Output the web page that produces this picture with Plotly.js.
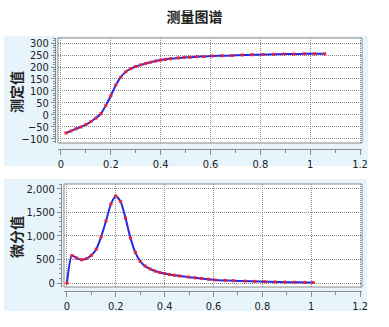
<!DOCTYPE html>
<html>
<head>
<meta charset="utf-8">
<script src="https://cdn.plot.ly/plotly-3.0.1.min.js"></script>
<style>html,body{margin:0;padding:0;background:#fff;}#chart{width:389px;height:327px;}</style>
</head>
<body>
<div id="chart"></div>
<script>
// Top panel: measured value (测定值)
const xMeasured = [0.02,0.04,0.06,0.08,0.10,0.12,0.14,0.16,0.18,0.20,0.22,0.24,0.26,0.28,0.30,0.32,0.34,0.36,0.38,0.40,0.42,0.44,0.47,0.495,0.518,0.546,0.573,0.607,0.645,0.686,0.727,0.767,0.811,0.854,0.895,0.936,0.977,1.018,1.058];
const yMeasured = [-75,-67,-58,-50,-40,-28,-13,5,40,80,125,158,180,193,202,209,215,220,225,229,232,235,238,240,241,243,244,246,247,248,250,251,252,253,254,254,255,255,255];
// Bottom panel: differential value (微分值)
const xDiff = [0,0.02,0.04,0.06,0.08,0.10,0.12,0.14,0.16,0.18,0.20,0.22,0.24,0.26,0.28,0.30,0.32,0.34,0.36,0.38,0.40,0.42,0.44,0.46,0.498,0.525,0.552,0.58,0.607,0.648,0.682,0.729,0.77,0.81,0.852,0.893,0.933,0.974,1.008];
const yDiff = [0,585,530,495,520,590,720,980,1320,1680,1850,1730,1380,960,650,460,360,300,255,225,200,180,165,150,125,110,95,80,65,55,48,40,35,28,22,18,15,12,10];
const xTickVals = [0,0.2,0.4,0.6,0.8,1,1.2];
const xTickText = ['0','0.2','0.4','0.6','0.8','1','1.2'];
const titleText = '测量图谱';
const yTitleTop = '测定值';
const yTitleBottom = '微分值';

const W = 389, H = 327;
const px = v => v / W;
const py = v => 1 - v / H;

const lineStyle = {color: '#2a2ae6', width: 2, shape: 'spline', smoothing: 0.6};
const markerStyle = {color: '#ee2030', size: 3, symbol: 'square'};

const traces = [
  {x: xMeasured, y: yMeasured, xaxis: 'x', yaxis: 'y', mode: 'lines+markers', line: lineStyle, marker: markerStyle, hoverinfo: 'skip'},
  {x: xDiff, y: yDiff, xaxis: 'x2', yaxis: 'y2', mode: 'lines+markers', line: lineStyle, marker: markerStyle, hoverinfo: 'skip'}
];

const tickFont = {family: '"Liberation Sans Narrow", "DejaVu Sans Condensed", sans-serif', size: 11, color: '#222'};
const gridCommon = {showgrid: true, gridcolor: '#8c8c8c', griddash: '1px,1px', gridwidth: 1,
  showline: true, linecolor: '#8a8a8a', linewidth: 1, ticks: 'outside', tickcolor: '#8a8a8a',
  ticklen: 5, tickwidth: 1, tickfont: tickFont, zeroline: false, fixedrange: true};

const boxTop = {x0: 58, x1: 362, y0: 38, y1: 143};
const boxBot = {x0: 64, x1: 362, y0: 184, y1: 287};

const layout = {
  width: W, height: H,
  margin: {l: 0, r: 0, t: 0, b: 0},
  paper_bgcolor: '#ffffff', plot_bgcolor: '#ffffff',
  showlegend: false,
  title: {text: titleText, x: 0.5, xanchor: 'center', y: py(17), yanchor: 'middle', yref: 'paper',
    font: {family: '"Noto Sans CJK SC", sans-serif', size: 14, color: '#222', weight: 'bold'}},
  xaxis: Object.assign({}, gridCommon, {domain: [px(boxTop.x0), px(boxTop.x1)], anchor: 'free', position: py(149),
    range: [-0.012, 1.208], tickvals: xTickVals, ticktext: xTickText,
    minor: {dtick: 0.1, tick0: 0, ticks: 'outside', ticklen: 3, tickcolor: '#8a8a8a', showgrid: false}}),
  yaxis: Object.assign({}, gridCommon, {domain: [py(boxTop.y1), py(boxTop.y0)], anchor: 'free', position: px(55),
    range: [-117, 321], dtick: 50, tick0: 0, ticklen: 4,
    minor: {dtick: 10, tick0: 0, ticks: 'outside', ticklen: 2, tickcolor: '#8a8a8a', showgrid: false}}),
  xaxis2: Object.assign({}, gridCommon, {domain: [px(boxBot.x0), px(boxBot.x1)], anchor: 'free', position: py(291),
    range: [-0.012, 1.208], tickvals: xTickVals, ticktext: xTickText,
    minor: {dtick: 0.1, tick0: 0, ticks: 'outside', ticklen: 3, tickcolor: '#8a8a8a', showgrid: false}}),
  yaxis2: Object.assign({}, gridCommon, {domain: [py(boxBot.y1), py(boxBot.y0)], anchor: 'free', position: px(61),
    range: [-85, 2106], dtick: 500, tick0: 0, tickformat: ',d', ticklen: 4,
    minor: {dtick: 100, tick0: 0, ticks: 'outside', ticklen: 2, tickcolor: '#8a8a8a', showgrid: false}}),
  shapes: [
    {type: 'rect', xref: 'paper', yref: 'paper', x0: px(4), x1: px(368), y0: py(166), y1: py(36), fillcolor: '#e8f4fc', line: {width: 0}, layer: 'below'},
    {type: 'rect', xref: 'paper', yref: 'paper', x0: px(4), x1: px(367), y0: py(311), y1: py(179), fillcolor: '#e8f4fc', line: {width: 0}, layer: 'below'},
    {type: 'rect', xref: 'paper', yref: 'paper', x0: px(boxTop.x0), x1: px(boxTop.x1), y0: py(boxTop.y1), y1: py(boxTop.y0), fillcolor: '#ffffff', line: {width: 0}, layer: 'below'},
    {type: 'rect', xref: 'paper', yref: 'paper', x0: px(boxBot.x0), x1: px(boxBot.x1), y0: py(boxBot.y1), y1: py(boxBot.y0), fillcolor: '#ffffff', line: {width: 0}, layer: 'below'},
    {type: 'rect', xref: 'paper', yref: 'paper', x0: px(boxTop.x0), x1: px(boxTop.x1), y0: py(boxTop.y1), y1: py(boxTop.y0), line: {color: '#8a8a8a', width: 1}, layer: 'above'},
    {type: 'rect', xref: 'paper', yref: 'paper', x0: px(boxBot.x0), x1: px(boxBot.x1), y0: py(boxBot.y1), y1: py(boxBot.y0), line: {color: '#8a8a8a', width: 1}, layer: 'above'}
  ],
  annotations: [
    {text: '<b>' + yTitleTop + '</b>', xref: 'paper', yref: 'paper', x: px(16), y: py(92), textangle: -90, showarrow: false,
      xanchor: 'center', yanchor: 'middle', font: {family: '"Noto Sans CJK SC", sans-serif', size: 14, color: '#222'}},
    {text: '<b>' + yTitleBottom + '</b>', xref: 'paper', yref: 'paper', x: px(16), y: py(237), textangle: -90, showarrow: false,
      xanchor: 'center', yanchor: 'middle', font: {family: '"Noto Sans CJK SC", sans-serif', size: 14, color: '#222'}}
  ]
};

Plotly.newPlot('chart', traces, layout, {displayModeBar: false, staticPlot: true});
</script>
</body>
</html>
